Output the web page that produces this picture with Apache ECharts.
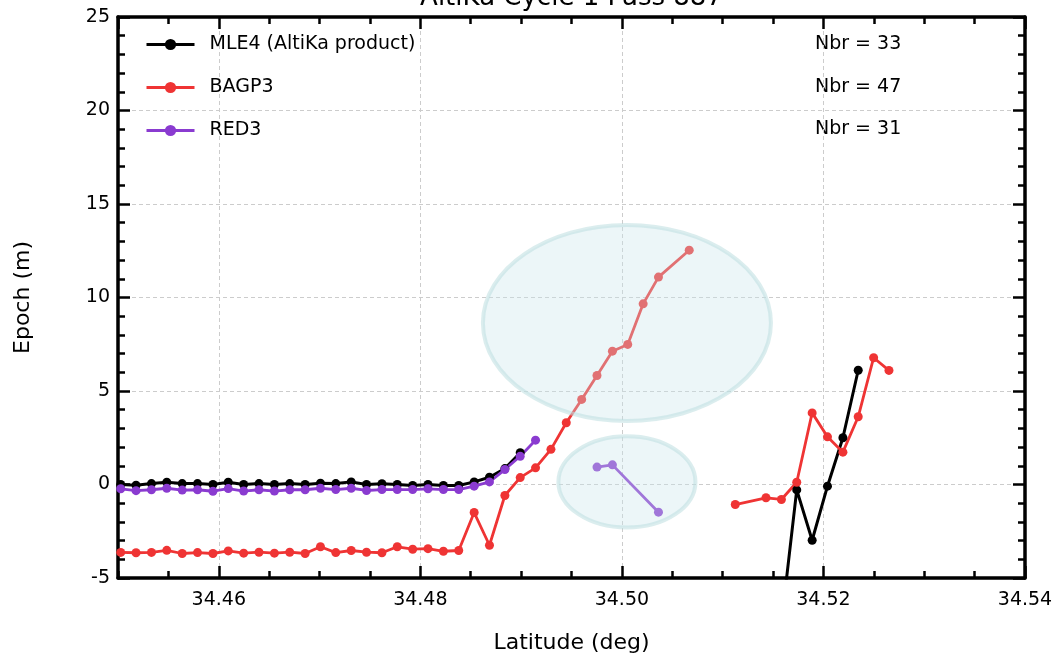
<!DOCTYPE html>
<html>
<head>
<meta charset="UTF-8">
<title>AltiKa Cycle 1 Pass 887</title>
<script src="https://cdn.jsdelivr.net/npm/echarts@6/dist/echarts.min.js"></script>
<style>
  html, body { margin: 0; padding: 0; background: #fff; }
  #main { width: 1054px; height: 655px; }
</style>
</head>
<body>
<div id="main"></div>
<script type="text/javascript">
// latitude of each 40 Hz sample (deg)
var latitude = [
  34.45027, 34.45179, 34.45332, 34.45484, 34.45637, 34.45789, 34.45942, 34.46094, 34.46247, 34.46399,
  34.46552, 34.46704, 34.46857, 34.47009, 34.47161, 34.47314, 34.47466, 34.47619, 34.47771, 34.47924,
  34.48076, 34.48229, 34.48381, 34.48534, 34.48686, 34.48839, 34.48991, 34.49143, 34.49296, 34.49448,
  34.49601, 34.49753, 34.49906, 34.50058, 34.50211, 34.50363, 34.50516, 34.50668, 34.50820, 34.50973,
  34.51125, 34.51278, 34.51430, 34.51583, 34.51735, 34.51888, 34.52040, 34.52193, 34.52345, 34.52498,
  34.52650
];

// epoch (m); null = no sample, '-' = line break
var mle4 = [
  0.0, -0.04, 0.05, 0.12, 0.05, 0.05, 0.0, 0.12, 0.0, 0.05,
  0.0, 0.05, 0.0, 0.07, 0.05, 0.14, 0.0, 0.04, 0.0, -0.05,
  0.0, -0.05, -0.05, 0.14, 0.39, 0.85, 1.70, '-', null, null,
  null, null, null, null, null, null, null, null, null, null,
  null, null, null, -7.4, -0.29, -2.98, -0.09, 2.50, 6.11, null,
  null
];
var bagp3 = [
  -3.63, -3.65, -3.63, -3.52, -3.69, -3.64, -3.69, -3.55, -3.67, -3.62,
  -3.67, -3.62, -3.69, -3.33, -3.64, -3.53, -3.62, -3.65, -3.33, -3.46,
  -3.43, -3.57, -3.53, -1.50, -3.25, -0.59, 0.37, 0.89, 1.88, 3.30,
  4.55, 5.83, 7.13, 7.49, 9.66, 11.09, null, 12.53, '-', null,
  -1.07, null, -0.71, -0.80, 0.12, 3.83, 2.55, 1.73, 3.62, 6.78,
  6.10
];
var red3 = [
  -0.23, -0.33, -0.28, -0.20, -0.30, -0.28, -0.36, -0.22, -0.35, -0.28,
  -0.35, -0.28, -0.28, -0.20, -0.27, -0.20, -0.32, -0.27, -0.27, -0.27,
  -0.23, -0.27, -0.27, -0.09, 0.14, 0.80, 1.51, 2.37, '-', null,
  null, 0.93, 1.05, null, null, -1.48, null, null, null, null,
  null, null, null, null, null, null, null, null, null, null,
  null
];

var seriesNames = ['MLE4 (AltiKa product)', 'BAGP3', 'RED3'];
var seriesColors = ['#000000', '#ef3434', '#8a3bd0'];
var nbrLabels = ['Nbr = 33', 'Nbr = 47', 'Nbr = 31'];

// highlighted zones: [centre lat, centre epoch, half-width (deg), half-height (m)]
var zones = [
  [34.5005, 8.64, 0.01429, 5.24],
  [34.5005, 0.14, 0.0068, 2.44]
];

var FONT = 'DejaVu Sans';

function toPairs(vals) {
  var out = [];
  for (var i = 0; i < vals.length; i++) {
    if (vals[i] === null) continue;
    out.push([latitude[i], vals[i]]);
  }
  return out;
}

function lineSeries(name, vals, color, width) {
  return {
    name: name,
    type: 'line',
    data: toPairs(vals),
    xAxisIndex: 0,
    yAxisIndex: 0,
    symbol: 'circle',
    symbolSize: 9,
    showSymbol: true,
    connectNulls: false,
    clip: true,
    z: 2,
    itemStyle: { color: color },
    lineStyle: { color: color, width: width }
  };
}

var myChart = echarts.init(document.getElementById('main'));

var tickStyle = { color: '#000', width: 2.5 };
var axisLineStyle = { color: '#000', width: 3.5 };

var option = {
  animation: false,
  backgroundColor: '#ffffff',
  grid: { left: 118, right: 29, top: 17, bottom: 77, outerBoundsMode: 'none' },
  legend: {
    data: seriesNames,
    orient: 'vertical',
    left: 140,
    top: 30,
    itemWidth: 48,
    itemHeight: 14,
    itemGap: 24,
    lineStyle: { width: 3 },
    textStyle: { fontFamily: FONT, fontSize: 19, color: '#000', padding: [0, 0, 0, 10] }
  },
  graphic: [
    { type: 'text', x: 571.5, y: 11, silent: true,
      style: { text: 'AltiKa Cycle 1 Pass 887', font: '26px "DejaVu Sans"', fill: '#000', align: 'center', verticalAlign: 'bottom' } },
    { type: 'text', x: 815, y: 44, silent: true,
      style: { text: nbrLabels[0], font: '19px "DejaVu Sans"', fill: '#000', verticalAlign: 'middle' } },
    { type: 'text', x: 815, y: 87, silent: true,
      style: { text: nbrLabels[1], font: '19px "DejaVu Sans"', fill: '#000', verticalAlign: 'middle' } },
    { type: 'text', x: 815, y: 129, silent: true,
      style: { text: nbrLabels[2], font: '19px "DejaVu Sans"', fill: '#000', verticalAlign: 'middle' } }
  ],
  xAxis: [
    {
      type: 'value', position: 'bottom', min: 34.45, max: 34.54, splitNumber: 5,
      name: 'Latitude (deg)', nameLocation: 'middle', nameGap: 54,
      nameTextStyle: { fontFamily: FONT, fontSize: 22, color: '#000' },
      axisLine: { onZero: false, lineStyle: axisLineStyle },
      axisTick: { inside: true, length: 12, lineStyle: tickStyle },
      axisLabel: {
        showMinLabel: false, margin: 13, fontFamily: FONT, fontSize: 19, color: '#000',
        formatter: function (v) { return v.toFixed(2); }
      },
      splitLine: { show: true, lineStyle: { color: '#cccccc', width: 1, type: [4, 3] } }
    },
    {
      type: 'value', position: 'bottom', min: 34.45, max: 34.54, interval: 0.005,
      axisLine: { show: false, onZero: false },
      axisTick: { inside: true, length: 7, lineStyle: tickStyle },
      axisLabel: { show: false },
      splitLine: { show: false }
    },
    {
      type: 'value', position: 'top', min: 34.45, max: 34.54, splitNumber: 5,
      axisLine: { onZero: false, lineStyle: axisLineStyle },
      axisTick: { inside: true, length: 12, lineStyle: tickStyle },
      axisLabel: { show: false },
      splitLine: { show: false }
    },
    {
      type: 'value', position: 'top', min: 34.45, max: 34.54, interval: 0.005,
      axisLine: { show: false, onZero: false },
      axisTick: { inside: true, length: 7, lineStyle: tickStyle },
      axisLabel: { show: false },
      splitLine: { show: false }
    }
  ],
  yAxis: [
    {
      type: 'value', position: 'left', min: -5, max: 25, interval: 5,
      name: 'Epoch (m)', nameLocation: 'middle', nameGap: 84, nameRotate: 90,
      nameTextStyle: { fontFamily: FONT, fontSize: 22, color: '#000' },
      axisLine: { onZero: false, lineStyle: axisLineStyle },
      axisTick: { inside: true, length: 12, lineStyle: tickStyle },
      minorTick: { show: true, splitNumber: 5, length: 7, lineStyle: tickStyle },
      axisLabel: { margin: 8, fontFamily: FONT, fontSize: 19, color: '#000' },
      splitLine: { show: true, lineStyle: { color: '#cccccc', width: 1, type: [4, 3] } }
    },
    {
      type: 'value', position: 'right', min: -5, max: 25, interval: 5,
      axisLine: { onZero: false, lineStyle: axisLineStyle },
      axisTick: { inside: true, length: 12, lineStyle: tickStyle },
      minorTick: { show: true, splitNumber: 5, length: 7, lineStyle: tickStyle },
      axisLabel: { show: false },
      splitLine: { show: false }
    }
  ],
  series: [
    lineSeries(seriesNames[0], mle4, seriesColors[0], 3),
    lineSeries(seriesNames[1], bagp3, seriesColors[1], 2.8),
    lineSeries(seriesNames[2], red3, seriesColors[2], 2.8),
    {
      name: 'zones',
      type: 'custom',
      xAxisIndex: 0,
      yAxisIndex: 0,
      z: 5,
      silent: true,
      clip: false,
      data: zones,
      encode: { x: 0, y: 1 },
      renderItem: function (params, api) {
        var c = api.coord([api.value(0), api.value(1)]);
        var s = api.size([api.value(2), api.value(3)]);
        return {
          type: 'ellipse',
          shape: { cx: c[0], cy: c[1], rx: s[0], ry: s[1] },
          style: { fill: 'rgba(200,228,234,0.35)', stroke: 'rgba(190,222,224,0.55)', lineWidth: 4 }
        };
      }
    }
  ]
};

myChart.setOption(option);
</script>
</body>
</html>
